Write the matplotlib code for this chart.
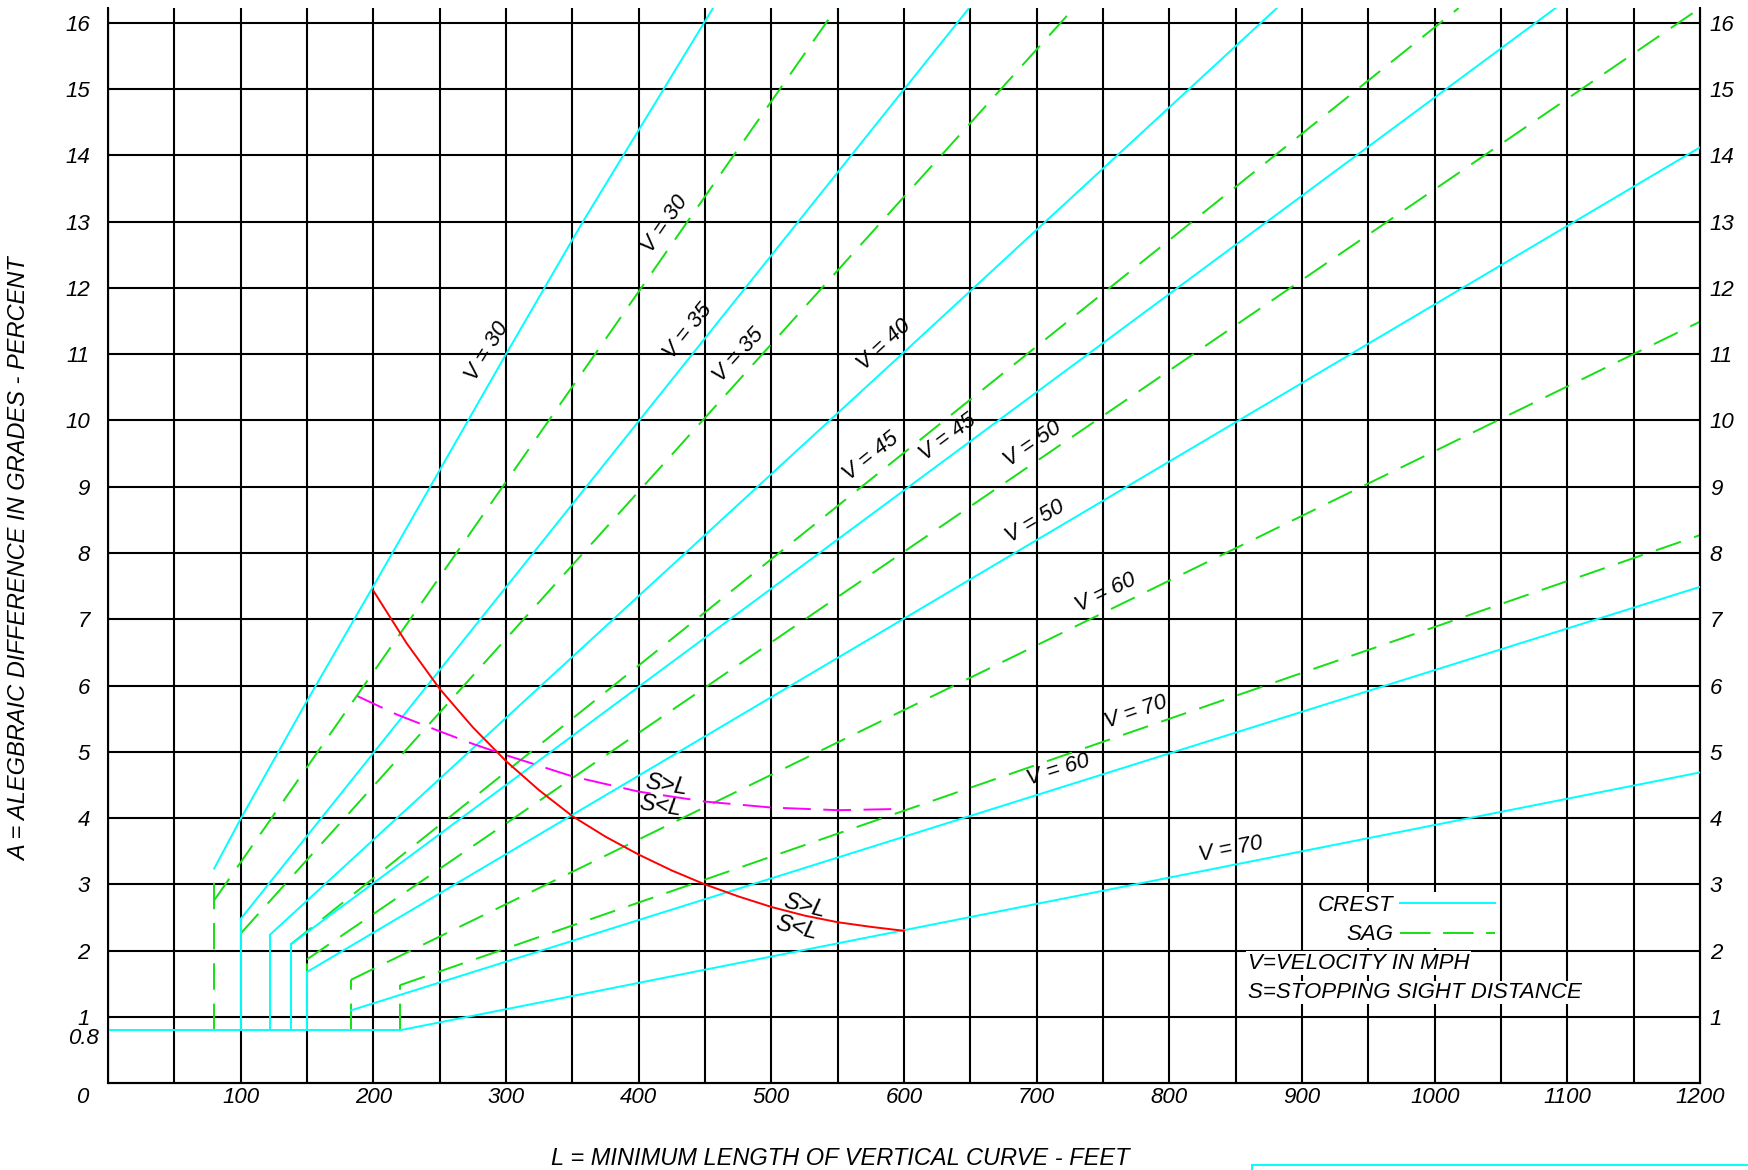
import numpy as np
import matplotlib
matplotlib.use("Agg")
import matplotlib.pyplot as plt
from matplotlib.lines import Line2D

plt.rcParams['font.family'] = ['Liberation Sans Narrow', 'Liberation Sans', 'DejaVu Sans']
plt.rcParams['font.style'] = 'italic'
plt.rcParams['lines.scale_dashes'] = False

# crest curves (solid cyan): L (ft) and A (%)
crest_v = [30, 35, 40, 45, 50, 60, 70]
crest_L = [
    [80, 100, 150, 200, 300, 358, 456],
    [100, 649],
    [122, 600, 881],
    [138, 1091],
    [150, 1200],
    [183, 1200],
    [220, 600, 1200],
]
crest_A = [
    [3.24, 3.99, 5.77, 7.5, 11.0, 13.0, 16.22],
    [2.48, 16.22],
    [2.24, 11.03, 16.22],
    [2.10, 16.22],
    [1.68, 14.12],
    [1.10, 7.49],
    [0.8, 2.31, 4.69],
]
# minimum length steps for crest
crest_min_L = [100, 122, 138, 150]
crest_min_A = [2.48, 2.24, 2.10, 1.68]

# sag curves (dashed green)
sag_v = [30, 35, 45, 50, 60, 70]
sag_L = [
    [80, 549],
    [100, 728],
    [138, 1018],
    [150, 1200],
    [183, 1200],
    [220, 1200],
]
sag_A = [
    [2.76, 16.22],
    [2.26, 16.22],
    [2.10, 16.22],
    [1.87, 16.22],
    [1.56, 11.49],
    [1.48, 8.27],
]
sag_min_L = [80, 150, 183, 220]
sag_min_A = [3.24, 1.87, 1.56, 1.48]

# floor A = 0.8
floor_L = [0, 220]
floor_A = [0.8, 0.8]

# S = L boundary, crest (red) and sag (magenta)
crest_SL_L = [200, 225, 250, 275, 300, 325, 350, 375, 400, 425, 450,
              475, 500, 525, 550, 575, 600]
crest_SL_A = [7.43, 6.64, 5.95, 5.37, 4.86, 4.42, 4.03, 3.72, 3.45, 3.21, 3.0,
              2.82, 2.66, 2.53, 2.43, 2.36, 2.30]
sag_SL_L = [188, 218, 250, 275, 300, 350, 400, 450, 500, 550, 600]
sag_SL_A = [5.84, 5.56, 5.31, 5.12, 4.95, 4.63, 4.40, 4.25, 4.16, 4.12, 4.14]

# label anchors (data coords)
crest_lab = [(286, 11.04), (437, 11.34), (585, 11.14), (633, 9.75),
             (699, 8.47), (716, 4.72), (846, 3.53)]
sag_lab = [(420, 12.96), (475, 10.99), (575, 9.46), (697, 9.64),
           (752, 7.40), (775, 5.60)]

CYAN = '#00ffff'
GREEN = '#14e014'
DASH = (0, (19, 10))
FS = 16

fig = plt.figure(figsize=(17.48, 11.70), dpi=100)
ax = fig.add_axes([0.0618, 0.0741, 0.9108, 0.9190])
ax.set_xlim(0, 1200)
ax.set_ylim(0, 16.22)

# grid
ax.set_xticks(np.arange(0, 1201, 100))
ax.set_xticks(np.arange(50, 1200, 100), minor=True)
ax.set_yticks(np.arange(0, 17))
ax.grid(which='both', color='black', lw=1.5, zorder=0)
ax.set_axisbelow(True)
for s in ['left', 'right', 'bottom']:
    ax.spines[s].set_linewidth(1.5)
ax.spines['top'].set_visible(False)
ax.tick_params(which='both', length=0, labelsize=FS)
ax.tick_params(axis='y', pad=13)
ax.tick_params(axis='x', pad=3)
ax.set_xticklabels([''] + [str(v) for v in range(100, 1201, 100)])
ax.set_yticklabels([''] + [str(v) for v in range(1, 17)])

ax2 = ax.twinx()
ax2.set_ylim(ax.get_ylim())
ax2.set_yticks(np.arange(0, 17))
ax2.set_yticklabels([''] + [str(v) for v in range(1, 17)])
ax2.tick_params(length=0, labelsize=FS, pad=7)
ax2.spines['top'].set_visible(False)

ax.text(-7, 0.68, '0.8', ha='right', va='center', fontsize=FS, clip_on=False)
ax.text(-14.5, -0.22, '0', ha='right', va='center', fontsize=FS, clip_on=False)

# sag lines
for L, A in zip(sag_L, sag_A):
    ax.plot(L, A, color=GREEN, lw=1.4, linestyle=DASH, zorder=2)
for L, A in zip(sag_min_L, sag_min_A):
    ax.plot([L, L], [0.8, A], color=GREEN, lw=1.4, linestyle=DASH, zorder=2)

# crest lines
for L, A in zip(crest_L, crest_A):
    ax.plot(L, A, color=CYAN, lw=1.4, zorder=3)
for L, A in zip(crest_min_L, crest_min_A):
    ax.plot([L, L], [0.8, A], color=CYAN, lw=1.4, zorder=3)
ax.plot(floor_L, floor_A, color=CYAN, lw=1.4, zorder=3)

ax.plot(crest_SL_L, crest_SL_A, color='red', lw=1.4, zorder=4)
ax.plot(sag_SL_L, sag_SL_A, color='#ff00ff', lw=1.4, linestyle=(0, (20, 9)), zorder=4)


def screen_angle(L, A):
    p = ax.transData.transform(np.column_stack([L, A]))
    return np.degrees(np.arctan2(p[-1, 1] - p[0, 1], p[-1, 0] - p[0, 0]))


for v, L, A, (x, y) in zip(crest_v, crest_L, crest_A, crest_lab):
    ax.text(x, y, 'V = %d' % v, rotation=screen_angle(L[-2:], A[-2:]),
            ha='center', va='center', fontsize=FS, rotation_mode='anchor')
for v, L, A, (x, y) in zip(sag_v, sag_L, sag_A, sag_lab):
    ax.text(x, y, 'V = %d' % v, rotation=screen_angle(L, A),
            ha='center', va='center', fontsize=FS, rotation_mode='anchor')

ax.text(421, 4.50, 'S>L', rotation=-9, ha='center', va='center', fontsize=17)
ax.text(416, 4.19, 'S<L', rotation=-9, ha='center', va='center', fontsize=17)
ax.text(525, 2.67, 'S>L', rotation=-14, ha='center', va='center', fontsize=17)
ax.text(519, 2.35, 'S<L', rotation=-14, ha='center', va='center', fontsize=17)

# legend
handles = [Line2D([], [], color=CYAN, lw=1.4),
           Line2D([], [], color=GREEN, lw=1.4, linestyle=(0, (22, 9)))]
leg = ax.legend(handles, ['CREST', 'SAG'], loc='upper left', bbox_to_anchor=(910, 2.88),
                bbox_transform=ax.transData, markerfirst=False, frameon=True,
                fontsize=FS, handlelength=4.3, handletextpad=0.3, borderpad=0.1,
                labelspacing=0.4, borderaxespad=0, fancybox=False)
leg.get_frame().set_edgecolor('none')
leg.get_frame().set_facecolor('white')
leg.get_frame().set_alpha(1)

box = dict(facecolor='white', edgecolor='none', pad=1)
ax.text(859, 1.81, 'V=VELOCITY IN MPH', ha='left', va='center', fontsize=FS, bbox=box)
ax.text(859, 1.37, 'S=STOPPING SIGHT DISTANCE', ha='left', va='center', fontsize=FS, bbox=box)

ax.set_xlabel('L = MINIMUM LENGTH OF VERTICAL CURVE - FEET', fontsize=17)
ax.set_ylabel('A = ALEGBRAIC DIFFERENCE IN GRADES - PERCENT', fontsize=17)
ax.xaxis.set_label_coords(0.46, -0.059)
ax.yaxis.set_label_coords(-0.0484, 0.4876)

# stray frame line at the bottom edge
fig.add_artist(Line2D([0.7162, 1.0], [0.0043, 0.0043], color=CYAN, lw=1.4))
fig.add_artist(Line2D([0.7162, 0.7162], [0.0043, 0.0], color=CYAN, lw=1.4))

fig.savefig('out.png', dpi=100)
